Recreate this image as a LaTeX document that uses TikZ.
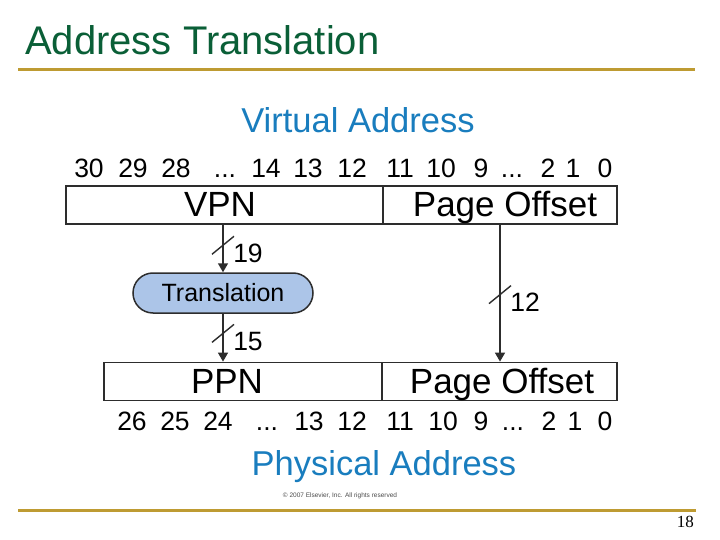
\documentclass[tikz,border=0pt]{standalone}
\usepackage{fontspec}
\setmainfont{Liberation Sans}
\newfontfamily\pagefont{Liberation Serif}
\usepackage{tikz}
\usetikzlibrary{arrows.meta,shapes.misc,calc}
\definecolor{titlegreen}{RGB}{10,95,55}
\definecolor{rulegold}{RGB}{190,155,50}
\definecolor{addrblue}{RGB}{25,125,190}
\definecolor{transblue}{RGB}{172,197,232}
\definecolor{linegray}{RGB}{45,45,45}
\newcommand\bitdots{...}

\begin{document}
\begin{tikzpicture}[x=1pt,y=-1pt,>={Triangle[width=10pt,length=9pt]}]
  \tikzstyle{field}=[rectangle,draw=linegray,line width=1.8pt,minimum height=38pt,inner sep=0pt]
  \tikzstyle{fieldtext}=[anchor=base,inner sep=0pt,font=\fontsize{35}{40}\selectfont]
  \tikzstyle{bitnum}=[anchor=base,inner sep=0pt,font=\fontsize{26.5}{30}\selectfont]
  \tikzstyle{addr}=[anchor=base,inner sep=0pt,text=addrblue,font=\fontsize{34.5}{40}\selectfont]
  \tikzstyle{bus}=[->,draw=linegray,line width=1.5pt]
  \tikzstyle{goldrule}=[draw=rulegold,line width=3pt]
  \fill[white] (0,0) rectangle (720,540);
  \useasboundingbox (0,0) rectangle (720,540);

  % title and rules
  \node[anchor=base west,inner sep=0pt,text=titlegreen,font=\fontsize{40}{44}\selectfont] (title) at (25,55) {Address Translation};
  \draw[goldrule] (18,70) -- (695,70);
  \draw[goldrule] (18,510) -- (696,510);
  \node[anchor=base east,inner sep=0pt,font=\pagefont\fontsize{17}{18}\selectfont] (pnum) at (694,527) {18};

  % virtual address
  \node[addr] (vaddr) at (358,133) {Virtual Address};
  \foreach \t/\x [count=\i] in {30/89,29/133,28/176,\bitdots/225,14/266,13/308,12/352,11/400,10/441,9/481,\bitdots/512,2/548,1/573,0/605}
    \node[bitnum] (vb\i) at (\x,178) {\t};
  \node[field,minimum width=317pt] (vpn) at (224.5,205) {};
  \node[field,minimum width=234pt] (vofs) at (500,205) {};
  \node[fieldtext] (vpntext) at (220,217) {VPN};
  \node[fieldtext] (vofstext) at (505,217) {Page Offset};

  % translation
  \node[rounded rectangle,draw=linegray,line width=1.5pt,fill=transblue,minimum width=180pt,minimum height=40pt,inner sep=0pt,font=\fontsize{25}{30}\selectfont] (trans) at (223,293) {Translation};

  % physical address
  \node[field,minimum width=278pt] (ppn) at (243,381.5) {};
  \node[field,minimum width=235pt] (pofs) at (499.5,381.5) {};
  \node[fieldtext] (ppntext) at (227,393) {PPN};
  \node[fieldtext] (pofstext) at (502,393) {Page Offset};
  \foreach \t/\x [count=\i] in {26/132,25/175,24/218,\bitdots/267,13/309,12/352,11/400,10/443,9/481,\bitdots/513,2/549,1/575,0/605}
    \node[bitnum] (pb\i) at (\x,430) {\t};
  \node[addr] (paddr) at (384,475) {Physical Address};
  \node[anchor=base,inner sep=0pt,font=\fontsize{6.5}{8}\selectfont,text=black!70] (copy) at (340,497) {\textcopyright\ 2007 Elsevier, Inc. All rights reserved};

  % buses
  \draw[bus] (vpn.south -| trans.north) -- coordinate[pos=0.43] (s1) (trans.north);
  \draw[bus] (trans.south) -- coordinate[pos=0.41] (s2) (trans.south |- ppn.north);
  \draw[bus] (vofs.south) -- coordinate[pos=0.51] (s3) (vofs.south |- pofs.north);
  \foreach \c/\w in {s1/19,s2/15,s3/12} {
    \draw[draw=linegray,line width=1.4pt] ($(\c)+(-11,9)$) -- ($(\c)+(11,-9)$);
    \node[bitnum] at ($(\c)+(25,17)$) {\w};
  }
\end{tikzpicture}
\end{document}
